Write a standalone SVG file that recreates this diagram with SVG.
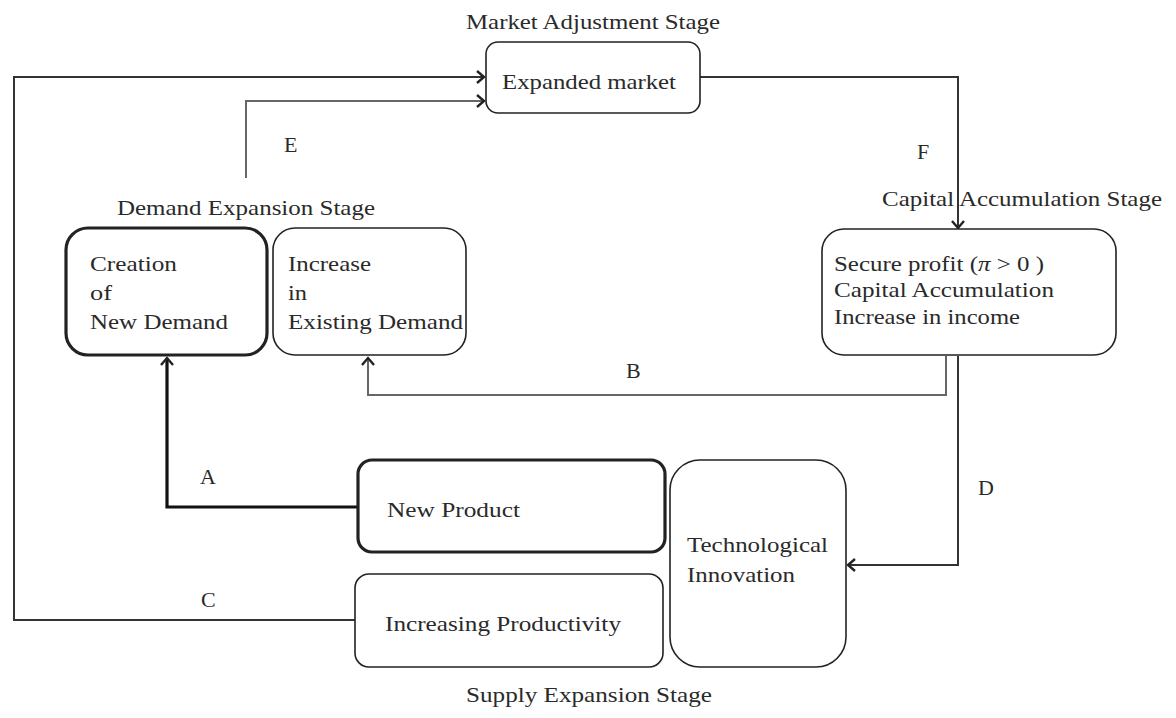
<svg xmlns="http://www.w3.org/2000/svg" width="1176" height="718" viewBox="0 0 1176 718">
<style>
text{font-family:"Liberation Serif","Times New Roman",serif;font-size:22px;fill:#2a2a2a}
.box{fill:#fff;stroke:#222;stroke-width:1.6}
.thick{stroke-width:3.2}
.ln{fill:none;stroke:#333;stroke-width:2}
.gr{stroke:#666}
.tk{stroke:#111;stroke-width:3.2}
</style>
<defs>
<marker id="ar" markerWidth="12" markerHeight="16" refX="9" refY="8" orient="auto" markerUnits="userSpaceOnUse">
<path d="M2,2 L9,8 L2,14" fill="none" stroke="#222" stroke-width="2.4"/>
</marker>
</defs>
<rect width="1176" height="718" fill="#fff"/>
<g id="labels">
<text x="466" y="29" textLength="254" lengthAdjust="spacingAndGlyphs">Market Adjustment Stage</text>
<text x="117" y="215" textLength="258" lengthAdjust="spacingAndGlyphs">Demand Expansion Stage</text>
<text x="882" y="206" textLength="280" lengthAdjust="spacingAndGlyphs">Capital Accumulation Stage</text>
<text x="466" y="702" textLength="246" lengthAdjust="spacingAndGlyphs">Supply Expansion Stage</text>
</g>
<g id="connectors">
<polyline class="ln" points="358,620 14,620 14,77 484,77" marker-end="url(#ar)"/>
<polyline class="ln gr" points="246,178 246,101 484,101" marker-end="url(#ar)"/>
<polyline class="ln" points="700,77 958,77 958,228" marker-end="url(#ar)"/>
<polyline class="ln gr" points="946,356 946,395 368,395 368,358" marker-end="url(#ar)"/>
<polyline class="ln" points="958,356 958,565 848,565" marker-end="url(#ar)"/>
<polyline class="ln tk" points="358,507 167,507 167,358" marker-end="url(#ar)"/>
<text x="284" y="152">E</text>
<text x="917" y="159">F</text>
<text x="626" y="378">B</text>
<text x="978" y="495">D</text>
<text x="200" y="484">A</text>
<text x="201" y="607">C</text>
</g>
<g id="expanded">
<rect class="box" x="486" y="42" width="214" height="71" rx="12"/>
<text x="502" y="89" textLength="174" lengthAdjust="spacingAndGlyphs">Expanded market</text>
</g>
<g id="capital">
<rect class="box" x="822" y="229" width="294" height="126" rx="22"/>
<text x="834" y="271" textLength="210" lengthAdjust="spacingAndGlyphs">Secure profit (<tspan font-style="italic">π</tspan> &gt; 0  )</text>
<text x="834" y="297" textLength="220" lengthAdjust="spacingAndGlyphs">Capital Accumulation</text>
<text x="834" y="324" textLength="186" lengthAdjust="spacingAndGlyphs">Increase in income</text>
</g>
<g id="creation">
<rect class="box thick" x="66" y="228" width="201" height="127" rx="22"/>
<text x="90" y="271" textLength="87" lengthAdjust="spacingAndGlyphs">Creation</text>
<text x="90" y="300" textLength="22" lengthAdjust="spacingAndGlyphs">of</text>
<text x="90" y="329" textLength="138" lengthAdjust="spacingAndGlyphs">New Demand</text>
</g>
<g id="increase">
<rect class="box" x="273" y="228" width="193" height="127" rx="22"/>
<text x="288" y="271" textLength="83" lengthAdjust="spacingAndGlyphs">Increase</text>
<text x="288" y="300" textLength="19" lengthAdjust="spacingAndGlyphs">in</text>
<text x="288" y="329" textLength="175" lengthAdjust="spacingAndGlyphs">Existing Demand</text>
</g>
<g id="newproduct">
<rect class="box thick" x="358" y="460" width="307" height="92" rx="14"/>
<text x="387" y="517" textLength="133" lengthAdjust="spacingAndGlyphs">New Product</text>
</g>
<g id="productivity">
<rect class="box" x="355" y="574" width="308" height="93" rx="14"/>
<text x="385" y="631" textLength="236" lengthAdjust="spacingAndGlyphs">Increasing Productivity</text>
</g>
<g id="technology">
<rect class="box" x="670" y="460" width="176" height="207" rx="30"/>
<text x="687" y="552" textLength="141" lengthAdjust="spacingAndGlyphs">Technological</text>
<text x="687" y="582" textLength="108" lengthAdjust="spacingAndGlyphs">Innovation</text>
</g>
</svg>
